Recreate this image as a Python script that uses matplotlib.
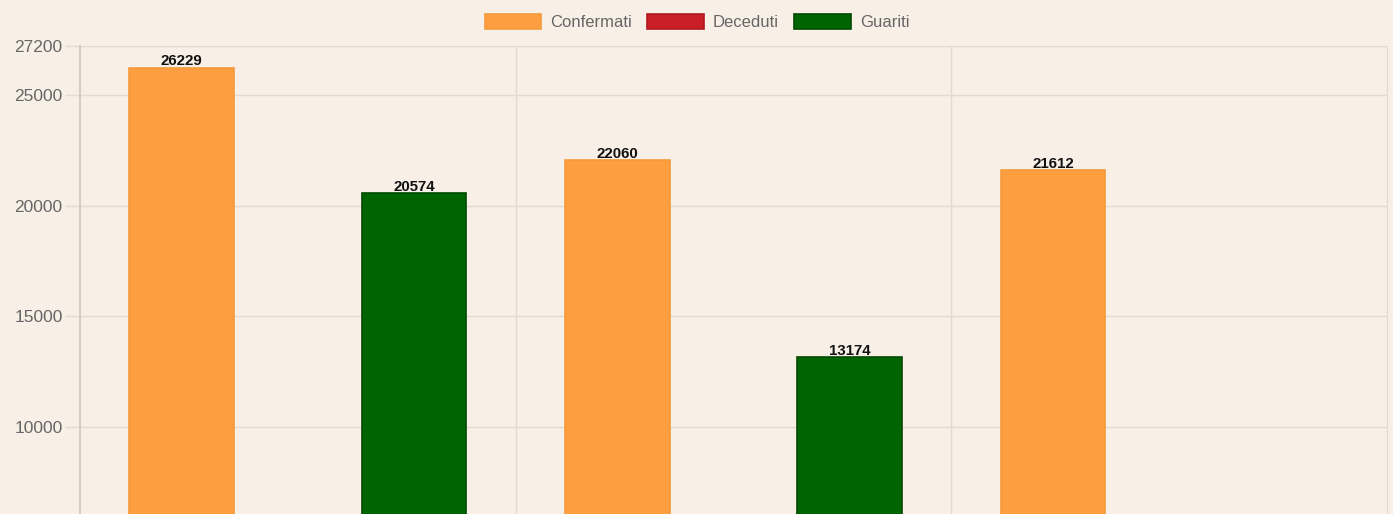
import numpy as np
import matplotlib
matplotlib.use("Agg")
import matplotlib.pyplot as plt
from matplotlib.patches import Patch

plt.rcParams['font.family'] = ['Liberation Sans', 'DejaVu Sans']

# Data (values hidden below the visible crop are not readable -> NaN)
groups = ["A", "B", "C"]
series_names = ["Confermati", "Deceduti", "Guariti"]
confermati = [26229, 22060, 21612]
deceduti = [np.nan, np.nan, np.nan]
guariti = [20574, 13174, np.nan]
yticks = [10000, 15000, 20000, 25000, 27200]

colors = ["#FD9F40", "#CB1F27", "#006400"]
edges = ["#F59A3C", "#B01A22", "#004A00"]
bg = "#F8EFE6"
grid_c = "#E3DAD0"

W, H = 1393, 514
fig = plt.figure(figsize=(W / 100, H / 100), dpi=100, facecolor=bg)
ax = fig.add_axes([80 / W, 0, (1387 - 80) / W, 1 - 46 / H], facecolor=bg)

x = np.arange(len(groups))
slot = 0.8 / 3
bw = slot * 0.9
data = [confermati, deceduti, guariti]
for i, vals in enumerate(data):
    pos = x + (i - 1) * slot
    ax.bar(pos, vals, width=bw, color=colors[i], edgecolor=edges[i], linewidth=1.2, zorder=3)
    for p, v in zip(pos, vals):
        if not np.isnan(v):
            ax.text(p, v - 40, f"{int(v)}",
                    ha="center", va="bottom", fontsize=10.8, fontweight="bold",
                    color="#111111", zorder=4)

ax.set_xlim(-0.5, 2.5)
ax.set_ylim(6076, 27200)
ax.set_yticks(yticks)
ax.set_yticklabels([str(t) for t in yticks], fontsize=12.5, color="#666666")
ax.tick_params(axis="y", length=11, color=grid_c, width=1, pad=1.5)
ax.set_xticks([])
ax.set_xticks([0.5, 1.5], minor=True)
ax.tick_params(axis="x", which="minor", length=0)
ax.grid(axis="y", color=grid_c, linewidth=1, zorder=0)
ax.grid(axis="x", which="minor", color=grid_c, linewidth=1, zorder=0)

for s in ["top", "bottom"]:
    ax.spines[s].set_visible(False)
ax.spines["left"].set_color("#CFC6BC")
ax.spines["left"].set_linewidth(1.2)
ax.spines["right"].set_color(grid_c)

handles = [Patch(facecolor=colors[i], edgecolor=edges[i], linewidth=1.2) for i in range(3)]
leg = fig.legend(handles, series_names, loc="center", bbox_to_anchor=(697 / W, 1 - 22 / H),
                 ncol=3, frameon=False, fontsize=12, handlelength=3.4, handleheight=1.08,
                 handletextpad=0.55, columnspacing=0.9, borderpad=0)
for t in leg.get_texts():
    t.set_color("#666666")

fig.savefig("out.png", dpi=100, facecolor=bg)
